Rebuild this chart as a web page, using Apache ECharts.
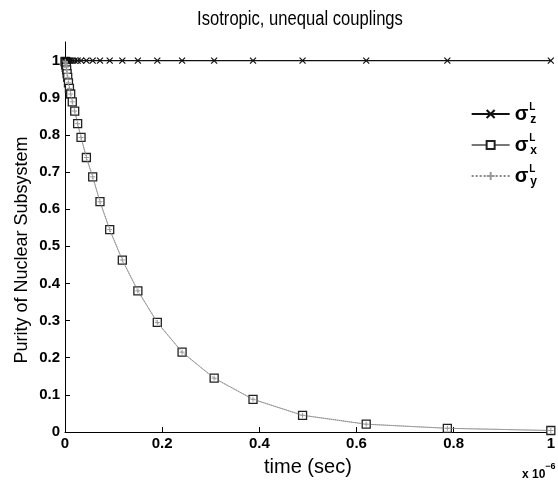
<!DOCTYPE html>
<html>
<head>
<meta charset="utf-8">
<script src="https://cdn.jsdelivr.net/npm/echarts@6/dist/echarts.min.js"></script>
<style>html,body{margin:0;padding:0;background:#fff}#c{width:558px;height:482px}</style>
</head>
<body>
<div id="c"></div>
<script>
// time in units of 1e-6 sec
const times = [0.0005,0.0007,0.001,0.0012,0.0016,0.002,0.0026,0.0034,0.0043,0.0056,0.0071,0.0091,0.0117,0.015,0.02,0.026,0.033,0.044,0.057,0.072,0.092,0.118,0.15,0.19,0.241,0.307,0.387,0.489,0.62,0.787,1.0];
const sigmaZ = [1,1,1,1,1,1,1,1,1,1,1,1,1,1,1,1,1,1,1,1,1,1,1,1,1,1,1,1,1,1,1];
const sigmaX = [0.998,0.997,0.996,0.994,0.991,0.988,0.982,0.975,0.965,0.955,0.94,0.925,0.91,0.889,0.864,0.83,0.793,0.739,0.687,0.62,0.545,0.463,0.38,0.295,0.215,0.145,0.088,0.045,0.021,0.01,0.004];
const sigmaY = [0.998,0.997,0.996,0.994,0.991,0.988,0.982,0.975,0.965,0.955,0.94,0.925,0.91,0.889,0.864,0.83,0.793,0.739,0.687,0.62,0.545,0.463,0.38,0.295,0.215,0.145,0.088,0.045,0.021,0.01,0.004];
const seriesNames = ['z','x','y'];
const xTicks = [0,0.2,0.4,0.6,0.8,1];
const yTicks = [0,0.1,0.2,0.3,0.4,0.5,0.6,0.7,0.8,0.9,1];

const pair = (xs, ys) => xs.map((t, i) => [t, ys[i]]);
const FONT = '"Liberation Sans", Arial, Helvetica, sans-serif';
const chart = echarts.init(document.getElementById('c'), null, {renderer: 'canvas'});
const fmt = v => String(+v.toFixed(1));

chart.setOption({
  animation: false,
  backgroundColor: '#fff',
  textStyle: {fontFamily: FONT},
  title: [
    {text: '{a|x 10}{b|−6}', left: 517, top: 456,
     textStyle: {rich: {
       a: {fontFamily: FONT, fontSize: 12, fontWeight: 'bold', color: '#000', padding: [8,0,0,0]},
       b: {fontFamily: FONT, fontSize: 9, fontWeight: 'bold', color: '#000', padding: [0,0,8,0]}
     }}}
  ],
  graphic: [
    {type: 'text', x: 300, y: 19, scaleX: 0.83,
     style: {text: 'Isotropic, unequal couplings', fontFamily: FONT, fontSize: 20, fill: '#000',
             align: 'center', verticalAlign: 'middle'}},
    {type: 'text', x: 22, y: 250, rotation: Math.PI / 2,
     style: {text: 'Purity of Nuclear Subsystem', fontFamily: FONT, fontSize: 18, fill: '#000',
             align: 'center', verticalAlign: 'middle'}}
  ],
  grid: {left: 65, right: 4, top: 42, bottom: 45, containLabel: false},
  legend: {
    orient: 'vertical', right: 16, top: 97, itemWidth: 38, itemHeight: 10, itemGap: 7,
    data: seriesNames,
    formatter: n => '{s|σ}{p|L}{q|' + n + '}',
    textStyle: {rich: {
      s: {fontFamily: FONT, fontSize: 20, fontWeight: 'bold', color: '#000', lineHeight: 27},
      p: {fontFamily: FONT, fontSize: 10, fontWeight: 'bold', color: '#000', padding: [0,0,14,1], width: 0},
      q: {fontFamily: FONT, fontSize: 12, fontWeight: 'bold', color: '#000', padding: [12,0,0,1]}
    }}
  },
  xAxis: {
    type: 'value', min: 0, max: 1, interval: 0.2,
    name: 'time (sec)', nameLocation: 'middle', nameGap: 25,
    nameTextStyle: {fontFamily: FONT, fontSize: 20, color: '#000'},
    axisLine: {onZero: false, lineStyle: {color: '#000', width: 1}},
    axisTick: {inside: true, length: 5, lineStyle: {color: '#000'}},
    axisLabel: {fontFamily: FONT, fontSize: 15, fontWeight: 'bold', color: '#000', margin: 4,
      formatter: v => xTicks.some(t => Math.abs(t - v) < 1e-9) ? fmt(v) : ''},
    splitLine: {show: false}
  },
  yAxis: {
    type: 'value', min: 0, max: 1.05, interval: 0.1,
    axisLine: {show: true, onZero: false, lineStyle: {color: '#000', width: 1}},
    axisTick: {inside: true, length: 5, lineStyle: {color: '#000'}},
    axisLabel: {fontFamily: FONT, fontSize: 15, fontWeight: 'bold', color: '#000', margin: 5,
      showMaxLabel: false,
      formatter: v => yTicks.some(t => Math.abs(t - v) < 1e-9) ? fmt(v) : ''},
    splitLine: {show: false}
  },
  series: [
    {name: 'z', type: 'line', data: pair(times, sigmaZ), z: 3,
     symbol: 'path://M0,0L10,10M10,0L0,10', symbolSize: 6, showAllSymbol: true,
     lineStyle: {color: '#111', width: 1.2},
     itemStyle: {color: 'rgba(0,0,0,0)', borderColor: '#111', borderWidth: 1.2}},
    {name: 'x', type: 'line', data: pair(times, sigmaX), z: 2,
     symbol: 'rect', symbolSize: 8, showAllSymbol: true,
     lineStyle: {color: '#777', width: 0.6},
     itemStyle: {color: '#fff', borderColor: '#222', borderWidth: 1.3}},
    {name: 'y', type: 'line', data: pair(times, sigmaY), z: 4,
     symbol: 'path://M5,0L5,10M0,5L10,5', symbolSize: 5, showAllSymbol: true,
     lineStyle: {color: '#888', width: 1, type: 'dotted'},
     itemStyle: {color: 'rgba(0,0,0,0)', borderColor: '#999', borderWidth: 1}}
  ]
});
</script>
</body>
</html>
